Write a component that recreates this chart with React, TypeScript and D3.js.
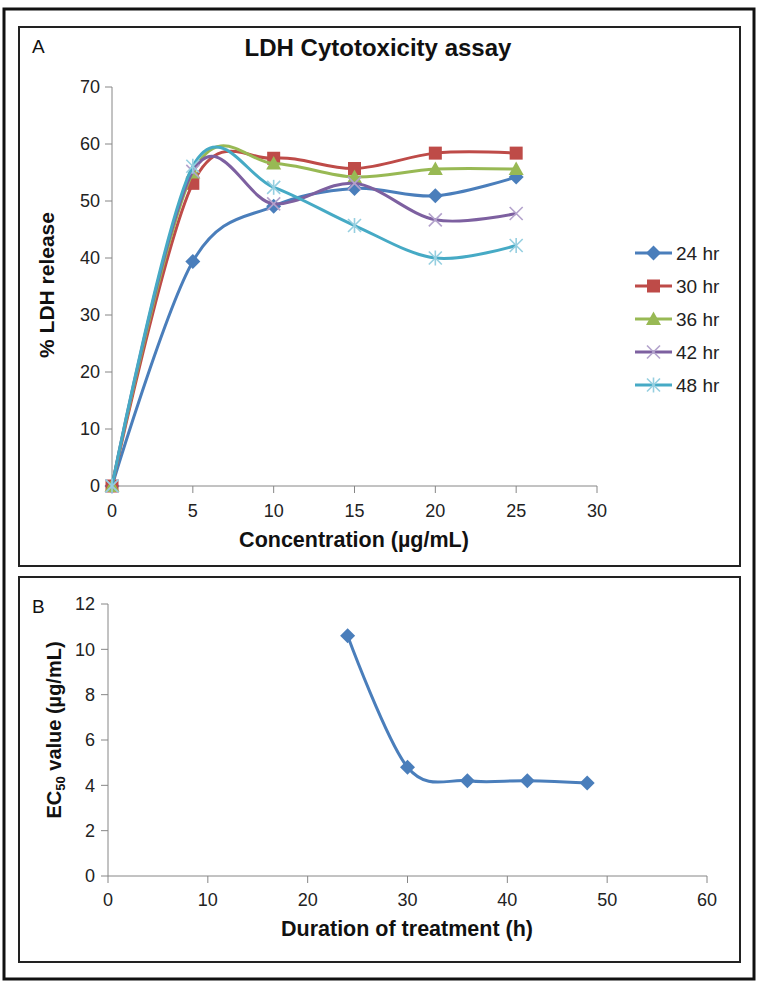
import React from 'react';
import * as d3 from 'd3';

const concentrations = [0, 5, 10, 15, 20, 25];
const seriesNames = ['24 hr', '30 hr', '36 hr', '42 hr', '48 hr'];
const ldh24 = [0, 39.4, 49.1, 52.2, 50.9, 54.2];
const ldh30 = [0, 53.1, 57.5, 55.7, 58.4, 58.4];
const ldh36 = [0, 55.0, 56.6, 54.2, 55.6, 55.6];
const ldh42 = [0, 55.2, 49.5, 53.1, 46.7, 47.8];
const ldh48 = [0, 56.1, 52.4, 45.7, 40.0, 42.2];
const concTicks = [0, 5, 10, 15, 20, 25, 30];
const ldhTicks = [0, 10, 20, 30, 40, 50, 60, 70];

const durations = [24, 30, 36, 42, 48];
const ec50 = [10.6, 4.8, 4.2, 4.2, 4.1];
const durTicks = [0, 10, 20, 30, 40, 50, 60];
const ecTicks = [0, 2, 4, 6, 8, 10, 12];

const colors = ['#4a7ebb', '#be4b48', '#98b954', '#7d60a0', '#46aac5'];
const shapes = ['diamond', 'square', 'triangle', 'x', 'star'];
const font = 'Arial, "Liberation Sans", sans-serif';
const axisColor = '#868686';

function Marker({ shape, x, y, color }: { shape: string; x: number; y: number; color: string }) {
  if (shape === 'diamond') {
    const r = 7.5;
    return <path d={`M${x},${y - r}L${x + r},${y}L${x},${y + r}L${x - r},${y}Z`} fill={color} />;
  }
  if (shape === 'square') {
    const r = 6.5;
    return <rect x={x - r} y={y - r} width={2 * r} height={2 * r} fill={color} />;
  }
  if (shape === 'triangle') {
    const r = 7.5;
    return <path d={`M${x},${y - r}L${x + r},${y + r * 0.8}L${x - r},${y + r * 0.8}Z`} fill={color} />;
  }
  const r = 6.5;
  return (
    <g stroke={shape === 'x' ? '#b3a2cc' : '#96cfe0'} strokeWidth={1.6}>
      <line x1={x - r} y1={y - r} x2={x + r} y2={y + r} />
      <line x1={x - r} y1={y + r} x2={x + r} y2={y - r} />
      {shape === 'star' && <line x1={x} y1={y - r - 1} x2={x} y2={y + r + 1} />}
    </g>
  );
}

export default function App() {
  // panel A scales
  const xA = d3.scaleLinear().domain([0, 30]).range([112, 597]);
  const yA = d3.scaleLinear().domain([0, 70]).range([486, 87]);
  // panel B scales
  const xB = d3.scaleLinear().domain([0, 60]).range([108, 707]);
  const yB = d3.scaleLinear().domain([0, 12]).range([876, 604]);

  const ldhSeries = [ldh24, ldh30, ldh36, ldh42, ldh48];
  const lineA = d3.line<number>()
    .x((_, i) => xA(concentrations[i]))
    .y(d => yA(d))
    .curve(d3.curveCatmullRom.alpha(0));
  const lineB = d3.line<number>()
    .x((_, i) => xB(durations[i]))
    .y(d => yB(d))
    .curve(d3.curveCatmullRom.alpha(0));

  return (
    <div style={{ position: 'absolute', left: 0, top: 0 }}>
      <svg width={758} height={984} viewBox="0 0 758 984" style={{ display: 'block', background: '#fff' }}>
        {/* frames */}
        <rect x={4} y={9} width={750} height={970} fill="none" stroke="#111" strokeWidth={3} />
        <rect x={19} y={27} width={721} height={539} fill="none" stroke="#222" strokeWidth={2} />
        <rect x={19} y={577} width={721} height={385} fill="none" stroke="#222" strokeWidth={2} />

        {/* Panel A */}
        <text x={32} y={53} fontFamily={font} fontSize={19} fill="#111">A</text>
        <text x={378} y={56} textAnchor="middle" fontFamily={font} fontSize={24} fontWeight="bold" fill="#111">
          LDH Cytotoxicity assay
        </text>
        <g>
          <line x1={xA(0)} x2={xA(0)} y1={yA(70)} y2={yA(0)} stroke={axisColor} />
          {ldhTicks.map(t => (
            <g key={`ya-${t}`}>
              <line x1={xA(0) - 7} x2={xA(0)} y1={yA(t)} y2={yA(t)} stroke={axisColor} />
              <text x={xA(0) - 12} y={yA(t)} dy="0.35em" textAnchor="end" fontFamily={font} fontSize={18} fill="#222">{t}</text>
            </g>
          ))}
          <line x1={xA(0)} x2={xA(30)} y1={yA(0)} y2={yA(0)} stroke={axisColor} />
          {concTicks.map(t => (
            <g key={`xa-${t}`}>
              <line x1={xA(t)} x2={xA(t)} y1={yA(0)} y2={yA(0) + 7} stroke={axisColor} />
              <text x={xA(t)} y={yA(0) + 31} textAnchor="middle" fontFamily={font} fontSize={18} fill="#222">{t}</text>
            </g>
          ))}
          <text x={354} y={547} textAnchor="middle" fontFamily={font} fontSize={21.5} fontWeight="bold" fill="#111">
            Concentration (µg/mL)
          </text>
          <text transform={`translate(54,${285}) rotate(-90)`} textAnchor="middle" fontFamily={font} fontSize={21} fontWeight="bold" fill="#111">
            % LDH release
          </text>
        </g>
        {ldhSeries.map((s, k) => (
          <g key={`s-${k}`}>
            <path d={lineA(s) || ''} fill="none" stroke={colors[k]} strokeWidth={3} />
            {s.map((v, i) => (
              <Marker key={i} shape={shapes[k]} x={xA(concentrations[i])} y={yA(v)} color={colors[k]} />
            ))}
          </g>
        ))}
        {/* legend */}
        {seriesNames.map((name, k) => {
          const ly = 253 + k * 33;
          return (
            <g key={`lg-${k}`}>
              <line x1={635} x2={672} y1={ly} y2={ly} stroke={colors[k]} strokeWidth={3} />
              <Marker shape={shapes[k]} x={653.5} y={ly} color={colors[k]} />
              <text x={676} y={ly} dy="0.36em" fontFamily={font} fontSize={19} fill="#222">{name}</text>
            </g>
          );
        })}

        {/* Panel B */}
        <text x={32} y={613} fontFamily={font} fontSize={19} fill="#111">B</text>
        <g>
          <line x1={xB(0)} x2={xB(0)} y1={yB(12)} y2={yB(0)} stroke={axisColor} />
          {ecTicks.map(t => (
            <g key={`yb-${t}`}>
              <line x1={xB(0) - 7} x2={xB(0)} y1={yB(t)} y2={yB(t)} stroke={axisColor} />
              <text x={xB(0) - 13} y={yB(t)} dy="0.35em" textAnchor="end" fontFamily={font} fontSize={18} fill="#222">{t}</text>
            </g>
          ))}
          <line x1={xB(0)} x2={xB(60)} y1={yB(0)} y2={yB(0)} stroke={axisColor} />
          {durTicks.map(t => (
            <g key={`xb-${t}`}>
              <line x1={xB(t)} x2={xB(t)} y1={yB(0)} y2={yB(0) + 7} stroke={axisColor} />
              <text x={xB(t)} y={yB(0) + 30} textAnchor="middle" fontFamily={font} fontSize={18} fill="#222">{t}</text>
            </g>
          ))}
          <text x={407} y={936} textAnchor="middle" fontFamily={font} fontSize={21.5} fontWeight="bold" fill="#111">
            Duration of treatment (h)
          </text>
          <text transform={`translate(61,${730}) rotate(-90)`} textAnchor="middle" fontFamily={font} fontSize={20} fontWeight="bold" fill="#111">
            EC<tspan fontSize={13} dy={4}>50</tspan><tspan dy={-4}> value (µg/mL)</tspan>
          </text>
        </g>
        <path d={lineB(ec50) || ''} fill="none" stroke={colors[0]} strokeWidth={3} />
        {ec50.map((v, i) => (
          <Marker key={`b-${i}`} shape="diamond" x={xB(durations[i])} y={yB(v)} color={colors[0]} />
        ))}
      </svg>
    </div>
  );
}
